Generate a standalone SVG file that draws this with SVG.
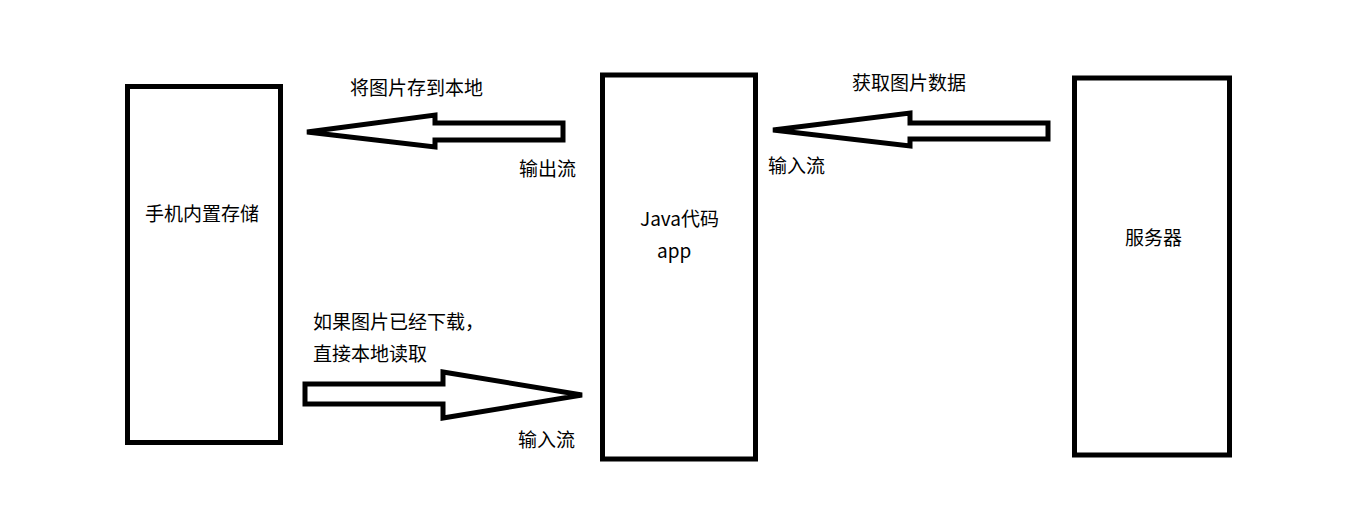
<svg xmlns="http://www.w3.org/2000/svg" width="1348" height="530" viewBox="0 0 1348 530">
<style>
.box{fill:#fff;stroke:#000;stroke-width:5}
.arrow{fill:#fff;stroke:#000;stroke-width:5;stroke-linejoin:miter}
text{font-family:"Microsoft YaHei","Noto Sans CJK SC","Noto Sans",sans-serif;font-size:19px;fill:#000}
</style>
<rect width="1348" height="530" fill="#fff"/>
<g id="storage">
<rect class="box" x="127.5" y="86.5" width="153" height="356"/>
<text x="145" y="221">手机内置存储</text>
</g>
<g id="app">
<rect class="box" x="602.5" y="75" width="153" height="384"/>
<text x="640" y="226">Java代码</text>
<text x="657" y="258">app</text>
</g>
<g id="server">
<rect class="box" x="1074.5" y="78" width="155" height="377"/>
<text x="1125" y="245">服务器</text>
</g>
<g id="connectors">
<polygon class="arrow" points="307,132 435,115 435,123 563,123 563,140 435,140 435,147"/>
<polygon class="arrow" points="773,130 910,113 910,123 1048,123 1048,139 910,139 910,146"/>
<polygon class="arrow" points="305,384 443,384 443,372 582,395 443,418 443,404 305,404"/>
<text x="350" y="95">将图片存到本地</text>
<text x="519" y="176">输出流</text>
<text x="852" y="90">获取图片数据</text>
<text x="768" y="173">输入流</text>
<text x="313" y="329">如果图片已经下载，</text>
<text x="313" y="361">直接本地读取</text>
<text x="518" y="447">输入流</text>
</g>
</svg>
